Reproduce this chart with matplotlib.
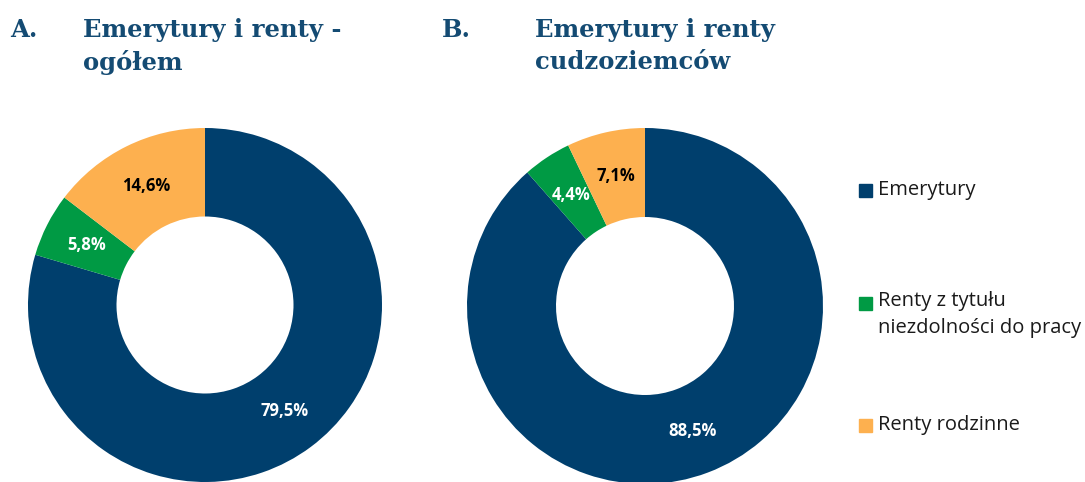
import matplotlib
matplotlib.use("Agg")
import matplotlib.pyplot as plt
from matplotlib.patches import Rectangle

categories = ["Emerytury", "Renty z tytułu\nniezdolności do pracy", "Renty rodzinne"]
share_total = [79.5, 5.8, 14.6]
share_foreign = [88.5, 4.4, 7.1]
colors = ["#003F6D", "#009A44", "#FDB04F"]
label_colors = ["white", "white", "black"]

title_color = "#144B73"
W, H = 1085, 482

fig = plt.figure(figsize=(W / 100, H / 100), dpi=100)


def donut(cx, cy, r, values):
    ax = fig.add_axes([(cx - r) / W, 1 - (cy + r) / H, 2 * r / W, 2 * r / H])
    labels = [f"{v:.1f}%".replace(".", ",") for v in values]
    wedges, texts = ax.pie(values, colors=colors, startangle=90, counterclock=False,
                           radius=1, wedgeprops=dict(width=0.5, linewidth=0),
                           labels=labels, labeldistance=0.75)
    for t, c in zip(texts, label_colors):
        t.set_color(c)
        t.set_fontsize(12)
        t.set_fontweight("bold")
        t.set_family("Open Sans")
        t.set_ha("center")
        t.set_va("center")
    ax.set_xlim(-1, 1)
    ax.set_ylim(-1, 1)
    ax.set_aspect("equal")
    ax.axis("off")
    return ax


donut(205, 305, 177, share_total)
donut(645, 306, 178, share_foreign)

tfont = dict(family="DejaVu Serif", fontweight="bold", fontsize=17.5, color=title_color,
             va="top", linespacing=1.42)
fig.text(10 / W, 1 - 18 / H, "A.", **tfont)
fig.text(83 / W, 1 - 18 / H, "Emerytury i renty -\nogółem", **tfont)
fig.text(442 / W, 1 - 18 / H, "B.", **tfont)
fig.text(535 / W, 1 - 18 / H, "Emerytury i renty\ncudzoziemców", **tfont)

# legend
leg_y = [190, 303, 425]
for lab, c, y in zip(categories, colors, leg_y):
    fig.patches.append(Rectangle((859 / W, 1 - (y + 7) / H), 13 / W, 13 / H,
                                 transform=fig.transFigure, color=c, figure=fig))
    if "\n" in lab:
        fig.text(878 / W, 1 - (y - 12) / H, lab, fontsize=14.5, family="Open Sans",
                 va="top", linespacing=1.5, color="#1a1a1a")
    else:
        fig.text(878 / W, 1 - y / H, lab, fontsize=14.5, family="Open Sans",
                 va="center", color="#1a1a1a")

fig.savefig("out.png", dpi=100)
